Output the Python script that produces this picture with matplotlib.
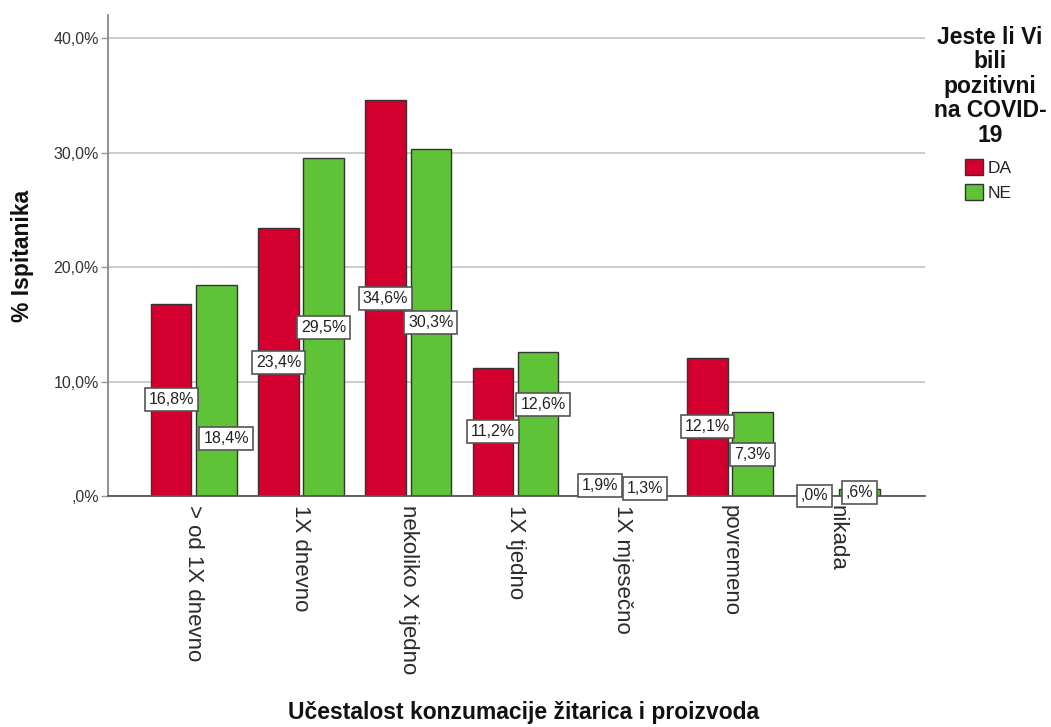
import matplotlib.pyplot as plt
import numpy as np
from matplotlib.patches import Patch

# data
categories = ['> od 1X dnevno', '1X dnevno', 'nekoliko X tjedno', '1X tjedno',
              '1X mjesečno', 'povremeno', 'nikada']
da_pct = [16.8, 23.4, 34.6, 11.2, 1.9, 12.1, 0.0]
ne_pct = [18.4, 29.5, 30.3, 12.6, 1.3, 7.3, 0.6]
y_ticks = [0, 10, 20, 30, 40]

RED = '#D3002F'
GREEN = '#5EC336'
plt.rcParams['font.family'] = ['Liberation Sans', 'DejaVu Sans']


def spss_pct(v):
    s = f'{v:.1f}'.replace('.', ',')
    if s.startswith('0,'):
        s = s[1:]
    return s + '%'


fig = plt.figure(figsize=(10.51, 7.27), dpi=100)
ax = fig.add_axes([108 / 1051, 1 - 496 / 727, 817 / 1051, 481 / 727])

x = np.arange(len(categories))
w = 0.377
off = 0.21
bars_da = ax.bar(x - off, da_pct, w, color=RED, edgecolor='#333333', linewidth=1, zorder=2)
bars_ne = ax.bar(x + off, ne_pct, w, color=GREEN, edgecolor='#333333', linewidth=1, zorder=2)

# SPSS nudges some labels so they do not collide (pixel offsets)
nudge = {('NE', 0): (10, -48), ('NE', 3): (5, 19)}

for name, bars, vals in [('DA', bars_da, da_pct), ('NE', bars_ne, ne_pct)]:
    for i, (b, v) in enumerate(zip(bars, vals)):
        dx, dy = nudge.get((name, i), (0, 0))
        ax.annotate(spss_pct(v), (b.get_x() + b.get_width() / 2, v / 2),
                    xytext=(dx * 0.72, dy * 0.72), textcoords='offset points',
                    ha='center', va='center', fontsize=11.5, color='#222222',
                    annotation_clip=False, zorder=6,
                    bbox=dict(boxstyle='square,pad=0.25', fc='white',
                              ec='#555555', lw=1.2))

ax.set_xlim(-0.8, 6.82)
ax.set_ylim(0, 42.03)
ax.set_yticks(y_ticks)
ax.set_yticklabels([spss_pct(t) for t in y_ticks])
ax.set_xticks(x)
ax.set_xticklabels(categories, rotation=270, va='top', ha='center')
ax.tick_params(axis='x', length=0, pad=6.5, labelsize=16, labelcolor='#2a2a2a')
ax.tick_params(axis='y', length=5, width=1, color='#999999', pad=1.5,
               labelsize=11.5, labelcolor='#333333')

ax.grid(axis='y', color='#c8c8c8', linewidth=1.3)
ax.set_axisbelow(True)
ax.spines['top'].set_visible(False)
ax.spines['right'].set_visible(False)
ax.spines['left'].set_color('#888888')
ax.spines['left'].set_linewidth(1.3)
ax.spines['bottom'].set_color('#555555')
ax.spines['bottom'].set_linewidth(1.3)

ax.set_ylabel('% Ispitanika', fontsize=16.5, fontweight='bold', color='#111111')
ax.yaxis.set_label_coords(-0.105, 0.5)
ax.yaxis.label.set_va('center')
ax.set_xlabel('Učestalost konzumacije žitarica i proizvoda', fontsize=16.5,
              fontweight='bold', color='#111111')
ax.xaxis.set_label_coords(0.509, -0.451)
ax.xaxis.label.set_va('center')

# legend: centred multi-line title above a plain two-entry legend
fig.text(990 / 1051, 1 - 26 / 727, 'Jeste li Vi\nbili\npozitivni\nna COVID-\n19',
         ha='center', va='top', multialignment='center', linespacing=1.08,
         fontsize=16.5, fontweight='bold', color='#111111')
handles = [Patch(facecolor=RED, edgecolor='#333333', label='DA'),
           Patch(facecolor=GREEN, edgecolor='#333333', label='NE')]
leg = fig.legend(handles=handles, loc='upper left',
                 bbox_to_anchor=(965 / 1051, 1 - 159 / 727),
                 fontsize=12.5, frameon=False, handlelength=1.035,
                 handleheight=1.035, handletextpad=0.25, labelspacing=0.45,
                 borderpad=0, borderaxespad=0)
for t in leg.get_texts():
    t.set_color('#222222')

fig.savefig('out.png', dpi=100)
